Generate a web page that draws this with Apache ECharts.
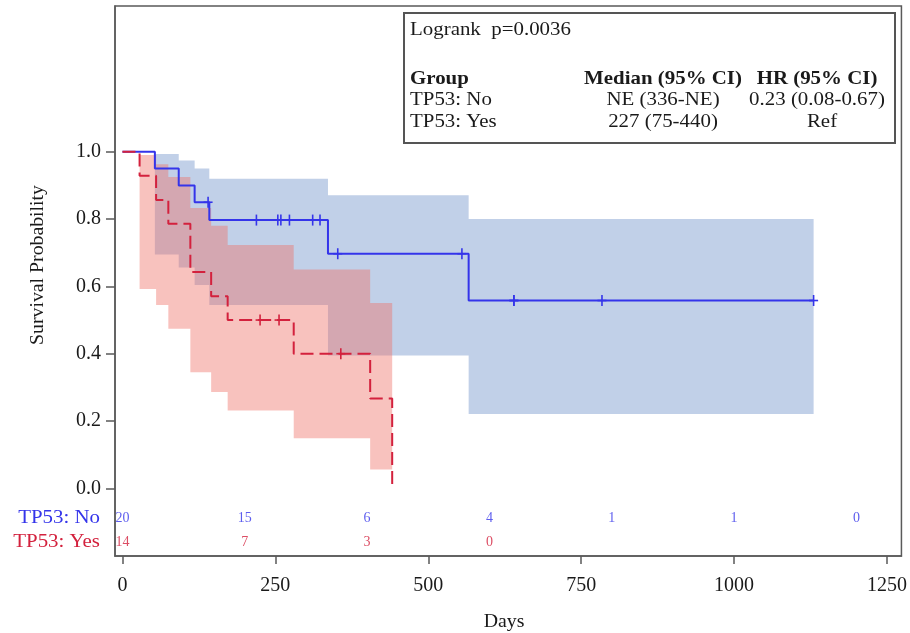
<!DOCTYPE html>
<html>
<head>
<meta charset="utf-8">
<script src="https://cdn.jsdelivr.net/npm/echarts@6/dist/echarts.min.js"></script>
<style>html,body{margin:0;padding:0;background:#fff}#c{width:910px;height:633px}</style>
</head>
<body>
<div id="c"></div>
<script>
// ---- data ----
const daysNo = [0, 53, 92, 118, 142, 336, 566, 1130];
const survNo = [1, 0.95, 0.90, 0.85, 0.797, 0.697, 0.558, 0.558];
const daysYes = [0, 28, 55, 75, 111, 145, 172, 280, 405, 441];
const survYes = [1, 0.929, 0.857, 0.786, 0.643, 0.571, 0.5, 0.4, 0.267, 0];

const ciDaysNo = [53, 92, 118, 142, 336, 566, 1130];
const ciLowNo  = [0.695, 0.656, 0.604, 0.545, 0.395, 0.221, 0.221];
const ciHighNo = [0.993, 0.974, 0.950, 0.920, 0.871, 0.800, 0.800];
const ciDaysYes = [28, 55, 75, 111, 145, 172, 280, 405, 441];
const ciLowYes  = [0.592, 0.545, 0.474, 0.345, 0.286, 0.231, 0.149, 0.056, 0.056];
const ciHighYes = [0.990, 0.963, 0.925, 0.833, 0.780, 0.723, 0.650, 0.551, 0.551];

const censorNo = [140, 219, 254, 259, 273, 311, 323, 352, 555, 640, 640, 784, 1130];
const censorYes = [225, 256, 357];

const riskDays = [0, 200, 400, 600, 800, 1000, 1200];
const riskNo = [20, 15, 6, 4, 1, 1, 0];
const riskYes = [14, 7, 3, 0];

const xTicks = [0, 250, 500, 750, 1000, 1250];
const yTicks = [0, 0.2, 0.4, 0.6, 0.8, 1.0];

const groupNames = ['TP53: No', 'TP53: Yes'];
const medianText = ['NE (336-NE)', '227 (75-440)'];
const hrText = ['0.23 (0.08-0.67)', 'Ref'];
const logrankText = 'Logrank  p=0.0036';

// ---- styles ----
const BLUE = '#3434ea';
const RED = '#d3213d';
const FONT = '"Liberation Serif", "Times New Roman", serif';
const SX = 1.1;

function stepAt(days, surv, t) {
  let v = surv[0];
  for (let i = 0; i < days.length; i++) if (days[i] <= t) v = surv[i];
  return v;
}
const pair = (xs, ys) => xs.map((x, i) => [x, ys[i]]);

// band polygon built from the CI arrays through the axis scales
function bandSeries(days, lo, hi, fill) {
  return {
    type: 'custom', silent: true,
    data: days.map((d, i) => [d, lo[i], hi[i]]),
    renderItem: function (params, api) {
      if (params.dataIndex !== 0) return null;
      const up = [], down = [];
      for (let i = 0; i < days.length - 1; i++) {
        up.push(api.coord([days[i], hi[i]]), api.coord([days[i + 1], hi[i]]));
        down.push(api.coord([days[i], lo[i]]), api.coord([days[i + 1], lo[i]]));
      }
      return {type: 'polygon', shape: {points: up.concat(down.reverse())}, style: {fill: fill}};
    }
  };
}
function censorSeries(times, days, surv, color) {
  return {
    type: 'custom', silent: true,
    data: times.map(t => [t, stepAt(days, surv, t)]),
    renderItem: function (params, api) {
      const p = api.coord([api.value(0), api.value(1)]);
      const st = {stroke: color, lineWidth: 1.6};
      return {type: 'group', children: [
        {type: 'line', shape: {x1: p[0] - 4.5, y1: p[1], x2: p[0] + 4.5, y2: p[1]}, style: st},
        {type: 'line', shape: {x1: p[0], y1: p[1] - 5.5, x2: p[0], y2: p[1] + 5.5}, style: st}
      ]};
    }
  };
}

const ROW_NO = -0.088, ROW_YES = -0.159;

function txt(x, y, text, opts) {
  opts = opts || {};
  return {
    type: 'text', x: x, y: y, scaleX: opts.sx || SX, rotation: opts.rot || 0, z: opts.z || 1,
    style: {
      text: text, x: 0, y: 0,
      font: (opts.bold ? 'bold ' : '') + (opts.size || 19) + 'px ' + FONT,
      fill: opts.color || '#1a1a1a',
      align: opts.align || 'left', verticalAlign: 'middle'
    }
  };
}

const chart = echarts.init(document.getElementById('c'), null, {renderer: 'canvas'});
const option = {
  animation: false,
  backgroundColor: '#fff',
  grid: {left: 115, right: 5, top: 6, bottom: 77, show: true, borderColor: '#5a5a5a', borderWidth: 1.5, backgroundColor: 'transparent'},
  xAxis: {
    type: 'value', min: -12.2, max: 1273.6,
    axisLine: {show: true, onZero: false, lineStyle: {color: '#5a5a5a', width: 1.5}},
    axisTick: {show: true, length: 8, customValues: xTicks, lineStyle: {color: '#5a5a5a', width: 1.5}},
    axisLabel: {customValues: xTicks, margin: 20, fontFamily: FONT, fontSize: 20, color: '#1a1a1a',
      formatter: v => String(v)},
    splitLine: {show: false}
  },
  yAxis: {
    type: 'value', min: -0.201, max: 1.433,
    axisLine: {show: true, onZero: false, lineStyle: {color: '#5a5a5a', width: 1.5}},
    axisTick: {show: true, length: 9, customValues: yTicks, lineStyle: {color: '#5a5a5a', width: 1.5}},
    axisLabel: {customValues: yTicks, margin: 14, fontFamily: FONT, fontSize: 20, color: '#1a1a1a',
      formatter: v => v.toFixed(1)},
    splitLine: {show: false}
  },
  series: [
    bandSeries(ciDaysNo, ciLowNo, ciHighNo, '#c1d0e8'),
    bandSeries(ciDaysYes, ciLowYes, ciHighYes, 'rgba(238,110,100,0.42)'),
    {type: 'line', step: 'end', symbol: 'none', data: pair(daysNo, survNo),
      lineStyle: {color: BLUE, width: 2}},
    {type: 'line', step: 'end', symbol: 'none', data: pair(daysYes, survYes),
      lineStyle: {color: RED, width: 2, type: [13, 6]}},
    censorSeries(censorNo, daysNo, survNo, BLUE),
    censorSeries(censorYes, daysYes, survYes, RED),
    {type: 'scatter', symbolSize: 0, silent: true,
      data: riskNo.map((n, i) => [riskDays[i], ROW_NO, n]),
      label: {show: true, position: 'inside', formatter: p => String(p.value[2]),
        fontFamily: FONT, fontSize: 14, color: BLUE}},
    {type: 'scatter', symbolSize: 0, silent: true,
      data: riskYes.map((n, i) => [riskDays[i], ROW_YES, n]),
      label: {show: true, position: 'inside', formatter: p => String(p.value[2]),
        fontFamily: FONT, fontSize: 14, color: RED}}
  ],
  graphic: [
    {type: 'rect', shape: {x: 404, y: 13, width: 491, height: 130},
      style: {fill: '#fff', stroke: '#555', lineWidth: 2}, z: 10},
    txt(410, 30, logrankText, {z: 11}),
    txt(410, 79, 'Group', {bold: true, z: 11}),
    txt(663, 79, 'Median (95% CI)', {bold: true, align: 'center', z: 11}),
    txt(817, 79, 'HR (95% CI)', {bold: true, align: 'center', z: 11}),
    txt(410, 100, groupNames[0], {z: 11}),
    txt(663, 100, medianText[0], {align: 'center', z: 11}),
    txt(817, 100, hrText[0], {align: 'center', z: 11}),
    txt(410, 122, groupNames[1], {z: 11}),
    txt(663, 122, medianText[1], {align: 'center', z: 11}),
    txt(822, 122, hrText[1], {align: 'center', z: 11}),
    txt(100, 518, groupNames[0], {align: 'right', color: BLUE}),
    txt(100, 542, groupNames[1], {align: 'right', color: RED}),
    txt(38, 265, 'Survival Probability', {align: 'center', rot: Math.PI / 2, size: 18}),
    txt(504, 622, 'Days', {align: 'center', size: 18})
  ]
};
chart.setOption(option);
</script>
</body>
</html>
